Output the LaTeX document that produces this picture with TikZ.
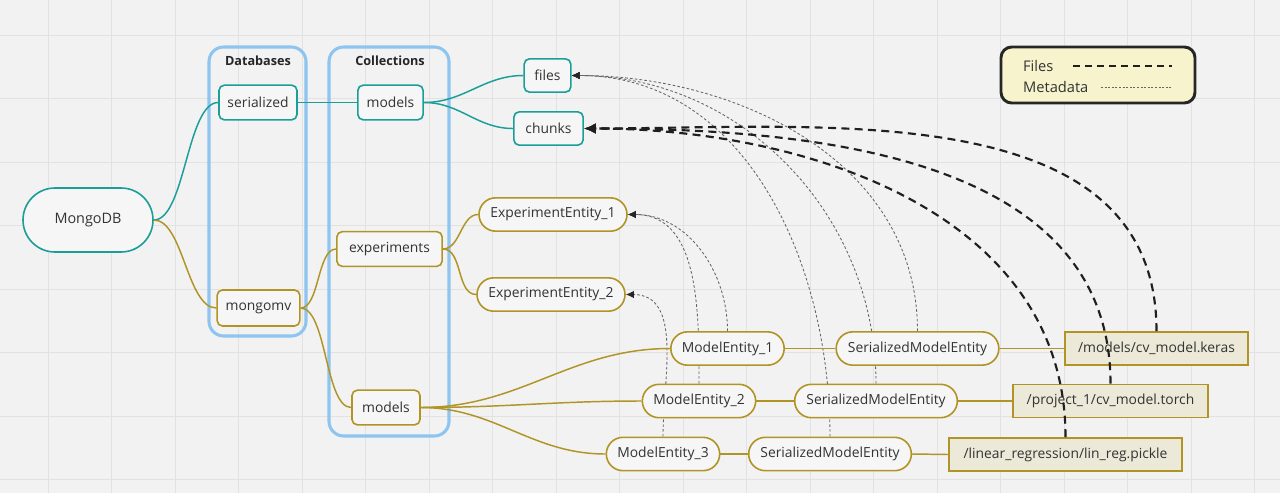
\documentclass[tikz,border=0pt]{standalone}
\usepackage{fontspec}
\setmainfont{Open Sans}
\usetikzlibrary{positioning}
\usetikzlibrary{arrows.meta}
\usetikzlibrary{calc}
\definecolor{mmteal}{RGB}{26,158,152}
\definecolor{mmolive}{RGB}{176,148,38}
\definecolor{mmblue}{RGB}{142,197,240}
\definecolor{bggray}{RGB}{242,242,242}
\definecolor{gridgray}{RGB}{226,226,226}
\definecolor{nodefill}{RGB}{246,246,246}
\definecolor{filefill}{RGB}{236,233,216}
\definecolor{legfill}{RGB}{247,243,205}
\definecolor{txt}{RGB}{51,51,51}
\pgfdeclarelayer{background}
\pgfsetlayers{background,main}
\tikzset{base/.style={font=\fontsize{10.4}{12}\selectfont, text=txt, fill=nodefill, line width=1.2pt, inner sep=1pt}}
\tikzset{root/.style={base, draw=mmteal, rounded corners=24pt, minimum width=97.5pt, minimum height=48pt, font=\fontsize{10.8}{12}\selectfont}}
\tikzset{tbox/.style={base, draw=mmteal, rounded corners=4pt, minimum height=26pt}}
\tikzset{obox/.style={base, draw=mmolive, rounded corners=4pt, minimum height=26pt}}
\tikzset{ent/.style={base, draw=mmolive, rounded corners=12.5pt, minimum height=25pt}}
\tikzset{filebox/.style={base, draw=mmolive, fill=filefill, minimum height=25pt}}
\tikzset{group/.style={draw=mmblue, line width=2.3pt, rounded corners=11pt}}
\tikzset{grouptitle/.style={font=\bfseries\fontsize{9.5}{11}\selectfont, text=black!85}}
\tikzset{legend/.style={draw=black!85, line width=2.2pt, fill=legfill, rounded corners=8pt, minimum width=145.5pt, minimum height=42pt}}
\tikzset{legtext/.style={font=\fontsize{11}{13}\selectfont, text=txt, inner sep=1pt}}
\tikzset{tealline/.style={draw=mmteal, line width=1.1pt}}
\tikzset{oliveline/.style={draw=mmolive, line width=1.1pt}}
\tikzset{fileref/.style={draw=black!88, line width=1.6pt, dash pattern=on 6pt off 4pt, -{Latex[length=9pt,width=8pt]}}}
\tikzset{metaref/.style={draw=black!60, line width=0.65pt, dash pattern=on 2pt off 1.6pt, -{Latex[length=6pt,width=5.5pt,color=black!85]}}}
\begin{document}
\begin{tikzpicture}[x=0.75pt,y=0.75pt]
\useasboundingbox (0,0) rectangle (1280,-493);

% board and grid
\begin{pgfonlayer}{background}
\fill[bggray] (0,0) rectangle (1280,-493);
\foreach \i in {0,...,19}
  \draw[gridgray, line width=0.75pt] (48+63.5*\i,0) -- (48+63.5*\i,-493);
\foreach \j in {0,...,7}
  \draw[gridgray, line width=0.75pt] (0,-35-63.5*\j) -- (1280,-35-63.5*\j);
\node[group, minimum width=72.75pt, minimum height=216.75pt] (dbgroup) at (257.5,-191.5) {};
\node[group, minimum width=90pt, minimum height=291.75pt] (collgroup) at (389,-241.5) {};
\end{pgfonlayer}

\node[grouptitle] (dbtitle) at (258,-61) {Databases};
\node[grouptitle] (colltitle) at (390,-61) {Collections};

% mongo, databases, collections
\node[root] (mongo) at (88,-220) {MongoDB};
\node[tbox, minimum width=58.5pt] (serialized) at (258,-102.5) {serialized};
\node[obox, minimum width=62pt, minimum height=27pt] (mongomv) at (258.5,-308) {mongomv};
\node[tbox, minimum width=49pt] (smodels) at (390.5,-102.5) {models};
\node[obox, minimum width=79pt] (experiments) at (389.5,-249) {experiments};
\node[obox, minimum width=51pt] (mmodels) at (386,-407.5) {models};

% gridfs
\node[tbox, minimum width=35pt, minimum height=25pt] (files) at (547.5,-75.5) {files};
\node[tbox, minimum width=52pt, minimum height=25pt] (chunks) at (548.5,-128.5) {chunks};

% entities
\node[ent, minimum width=111pt] (exp1) at (553,-214.5) {ExperimentEntity\_1};
\node[ent, minimum width=111pt] (exp2) at (551,-294.5) {ExperimentEntity\_2};
\node[ent, minimum width=85pt] (me1) at (727.5,-348.5) {ModelEntity\_1};
\node[ent, minimum width=85pt] (me2) at (699,-401) {ModelEntity\_2};
\node[ent, minimum width=85pt] (me3) at (663,-454) {ModelEntity\_3};
\node[ent, minimum width=122pt] (sme1) at (917.5,-348.5) {SerializedModelEntity};
\node[ent, minimum width=122pt] (sme2) at (876,-401) {SerializedModelEntity};
\node[ent, minimum width=122pt] (sme3) at (830,-454) {SerializedModelEntity};
\node[filebox, minimum width=137pt] (keras) at (1156.5,-348.5) {/models/cv\_model.keras};
\node[filebox, minimum width=146pt] (torch) at (1110.5,-401) {/project\_1/cv\_model.torch};
\node[filebox, minimum width=175pt] (pickle) at (1065.5,-454.5) {/linear\_regression/lin\_reg.pickle};

% legend
\node[legend] (legend) at (1098,-75) {};
\node[legtext, anchor=west] (lfiles) at (1021.5,-66) {Files};
\node[legtext, anchor=west] (lmeta) at (1021.5,-87) {Metadata};
\draw[black!88, line width=1.8pt, dash pattern=on 5.5pt off 3.5pt] (1073,-66) -- (1172,-66);
\draw[black!60, line width=0.5pt, dash pattern=on 1.5pt off 1.2pt] (1101,-87) -- (1172,-87);

% tree
\draw[tealline] (mongo.east) to[out=0,in=180,looseness=0.6] (serialized.west);
\draw[tealline] (serialized.east) -- (smodels.west);
\draw[tealline] (smodels.east) to[out=0,in=180] (files.west);
\draw[tealline] (smodels.east) to[out=0,in=180] (chunks.west);
\draw[oliveline] (mongo.east) to[out=0,in=180,looseness=0.7] (mongomv.west);
\draw[oliveline] (mongomv.east) to[out=0,in=180,looseness=0.7] (experiments.west);
\draw[oliveline] (mongomv.east) to[out=0,in=180,looseness=0.6] (mmodels.west);
\draw[oliveline] (experiments.east) to[out=0,in=180,looseness=0.9] (exp1.west);
\draw[oliveline] (experiments.east) to[out=0,in=180,looseness=0.9] (exp2.west);
\foreach \n in {1,2,3} {
  \draw[oliveline] (mmodels.east) to[out=0,in=180] (me\n.west);
  \draw[oliveline] (me\n.east) -- (sme\n.west);
}
\draw[oliveline] (sme1.east) -- (keras.west);
\draw[oliveline] (sme2.east) -- (torch.west);
\draw[oliveline] (sme3.east) -- (pickle.west);

% metadata refs, behind the boxes
\begin{pgfonlayer}{background}
\foreach \n in {1,2,3}
  \draw[metaref] (sme\n.north) to[out=90,in=0] (files.east);
\draw[metaref] (me1.north) to[out=90,in=0] (exp1.east);
\draw[metaref] (me2.north) to[out=90,in=0] (exp1.east);
\draw[metaref] (me3.north) to[out=90,in=0] (exp2.east);
\end{pgfonlayer}

% file refs
\draw[fileref] (keras.north) to[out=90,in=0] (chunks.east);
\draw[fileref] (torch.north) to[out=90,in=0] (chunks.east);
\draw[fileref] (pickle.north) to[out=90,in=0] (chunks.east);
\end{tikzpicture}
\end{document}
